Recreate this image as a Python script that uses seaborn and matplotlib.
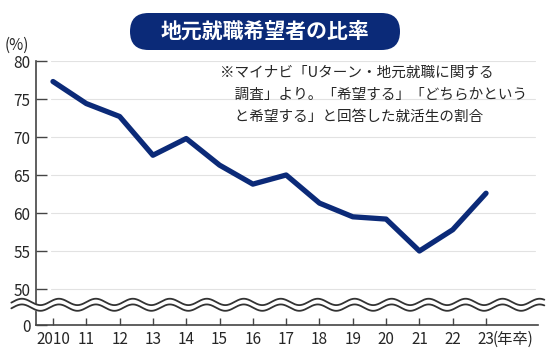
import numpy as np
import pandas as pd
import matplotlib
matplotlib.use("Agg")
import matplotlib.pyplot as plt
import matplotlib.transforms as mtransforms
from matplotlib.patches import FancyBboxPatch
import seaborn as sns

# data
years = [2010, 2011, 2012, 2013, 2014, 2015, 2016, 2017, 2018, 2019, 2020, 2021, 2022, 2023]
year_labels = ["2010", "11", "12", "13", "14", "15", "16", "17", "18", "19", "20", "21", "22", "23"]
ratio = [77.3, 74.4, 72.7, 67.6, 69.8, 66.3, 63.8, 65.0, 61.3, 59.5, 59.2, 55.0, 57.8, 62.6]
y_ticks = [50, 55, 60, 65, 70, 75, 80]

df = pd.DataFrame({"idx": range(len(years)), "ratio": ratio})

sns.set_theme(style="white")
plt.rcParams["font.family"] = ["Noto Sans CJK JP", "DejaVu Sans"]

navy = "#0b2a78"
fig = plt.figure(figsize=(5.5, 3.63), dpi=100)
ax = fig.add_axes([36 / 550, 38 / 363, 502 / 550, 264 / 363])

# zero is placed below the break, 36px under 50
zero_pos = 50 - 36 / 7.6
ax.set_ylim(zero_pos, 80)
ax.set_xlim(-0.51, 14.56)

for v in y_ticks:
    ax.axhline(v, color="#e2e2e2", lw=0.8, zorder=0, xmin=0.03, xmax=0.995)

sns.lineplot(data=df, x="idx", y="ratio", color=navy, lw=3.8, ax=ax, zorder=3)

ax.set_yticks([zero_pos] + y_ticks)
ax.set_yticklabels(["0"] + [str(v) for v in y_ticks])
ax.set_xticks(range(len(years)))
ax.set_xticklabels(year_labels)
ax.tick_params(axis="y", direction="in", length=8, width=1, color="#444444",
               labelsize=11, pad=4, left=True)
ax.tick_params(axis="x", direction="in", length=5, width=1, color="#444444",
               labelsize=11, pad=4, bottom=True)
ax.set_xlabel("")
ax.set_ylabel("")
for s in ["top", "right"]:
    ax.spines[s].set_visible(False)
for s in ["left", "bottom"]:
    ax.spines[s].set_color("#444444")
    ax.spines[s].set_linewidth(1.2)

# wavy axis break
xs = np.linspace(-1.25, 14.75, 800)
per = 1.11
amp = 0.42
wave = amp * np.sin(2 * np.pi * (xs + 0.1) / per)
up = 48.3 + wave
lo = 47.55 + wave
ax.fill_between(xs, lo, up, color="white", zorder=4, clip_on=False)
ax.plot(xs, up, color="#333333", lw=1.3, zorder=5, clip_on=False)
ax.plot(xs, lo, color="#333333", lw=1.3, zorder=5, clip_on=False)

ax.annotate("(年卒)", xy=(13, 0), xycoords=("data", "axes fraction"),
            xytext=(5, -4.5), textcoords="offset points", ha="left", va="top",
            fontsize=11)

fig.text(5 / 550, 1 - 45 / 363, "(%)", fontsize=11, ha="left", va="center")

note_lines = ["※マイナビ「Uターン・地元就職に関する",
              "　調査」より。「希望する」「どちらかという",
              "　と希望する」と回答した就活生の割合"]
for i, line in enumerate(note_lines):
    fig.text(220 / 550, 1 - (73 + 22 * i) / 363, line, fontsize=10.5,
             ha="left", va="center", zorder=6)

# title pill
box = FancyBboxPatch((130, 363 - 50), 270, 37, boxstyle="round,pad=0,rounding_size=18.5",
                     transform=mtransforms.IdentityTransform(), facecolor=navy,
                     edgecolor="none")
fig.add_artist(box)
fig.text(265 / 550, 1 - 31 / 363, "地元就職希望者の比率", color="white",
         fontsize=15, fontweight="bold", ha="center", va="center")

fig.savefig("out.png", dpi=100)
